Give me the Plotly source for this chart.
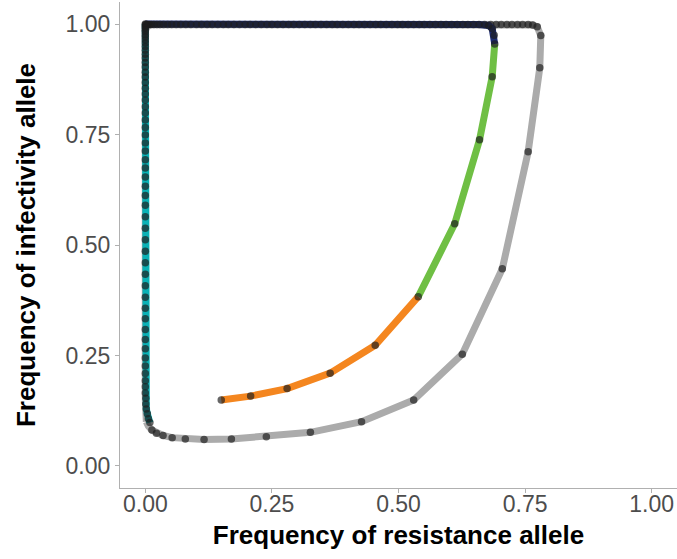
import plotly.graph_objects as go

# ---- data ----
# grey trajectory (path)
grey_x = [0.002, 0.000, 0.000, 0.000, 0.010, 0.682, 0.693, 0.703, 0.714, 0.724, 0.735, 0.745,
          0.756, 0.765, 0.774, 0.781, 0.779, 0.756, 0.705, 0.626, 0.530, 0.427, 0.326, 0.239,
          0.170, 0.116, 0.079, 0.053, 0.035, 0.022, 0.013, 0.006, 0.002]
grey_y = [0.100, 0.150, 0.500, 0.990, 0.999, 0.999, 0.999, 0.999, 0.999, 0.999, 0.999, 0.999,
          0.999, 0.998, 0.994, 0.974, 0.901, 0.711, 0.446, 0.253, 0.149, 0.100, 0.076, 0.066,
          0.061, 0.060, 0.061, 0.064, 0.069, 0.074, 0.081, 0.090, 0.100]
# grey trajectory (visible points)
grey_pt_x = [0.682, 0.693, 0.703, 0.714, 0.724, 0.735, 0.745, 0.756, 0.765, 0.774, 0.781, 0.779,
             0.756, 0.705, 0.626, 0.530, 0.427, 0.326, 0.239, 0.170, 0.116, 0.079, 0.053, 0.035,
             0.022, 0.013]
grey_pt_y = [0.999, 0.999, 0.999, 0.999, 0.999, 0.999, 0.999, 0.999, 0.998, 0.994, 0.974, 0.901,
             0.711, 0.446, 0.253, 0.149, 0.100, 0.076, 0.066, 0.061, 0.060, 0.061, 0.064, 0.069,
             0.074, 0.081]

# coloured trajectory, phase 1 (orange)
orange_x = [0.150, 0.208, 0.280, 0.365, 0.454, 0.539]
orange_y = [0.149, 0.158, 0.175, 0.210, 0.273, 0.383]
# phase 2 (green)
green_x = [0.539, 0.611, 0.660, 0.685, 0.690]
green_y = [0.383, 0.548, 0.738, 0.881, 0.955]
# phase 3 (navy, along the top)
navy_x = [0.690, 0.689, 0.685, 0.678, 0.670, 0.659, 0.648, 0.637, 0.627, 0.616, 0.605, 0.594,
          0.584, 0.573, 0.562, 0.551, 0.541, 0.530, 0.519, 0.508, 0.498, 0.487, 0.476, 0.465,
          0.455, 0.444, 0.433, 0.422, 0.412, 0.401, 0.390, 0.379, 0.369, 0.358, 0.347, 0.336,
          0.326, 0.315, 0.304, 0.293, 0.283, 0.272, 0.261, 0.250, 0.240, 0.229, 0.218, 0.207,
          0.197, 0.186, 0.175, 0.164, 0.154, 0.143, 0.132, 0.122, 0.111, 0.101, 0.090, 0.080,
          0.070, 0.061, 0.052, 0.044, 0.036, 0.029, 0.023, 0.017, 0.012, 0.008, 0.005, 0.003,
          0.001, 0.000]
navy_y = [0.955, 0.975, 0.990, 0.997, 0.999, 0.999, 0.999, 0.999, 0.999, 0.999, 0.999, 0.999,
          0.999, 0.999, 0.999, 0.999, 0.999, 0.999, 0.999, 0.999, 0.999, 0.999, 0.999, 0.999,
          0.999, 0.999, 0.999, 0.999, 0.999, 0.999, 0.999, 0.999, 0.999, 0.999, 0.999, 0.999,
          0.999, 0.999, 0.999, 0.999, 0.999, 0.999, 0.999, 0.999, 0.999, 0.999, 0.999, 0.999,
          0.999, 0.999, 0.999, 0.999, 0.999, 0.999, 0.999, 0.999, 0.999, 0.999, 0.999, 0.999,
          0.999, 0.999, 0.999, 0.999, 0.999, 0.999, 0.999, 0.999, 0.999, 0.999, 0.999, 0.999,
          0.999, 1.000]
# phase 4 (teal, down the left side)
teal_x = [0.000, 0.000, 0.000, 0.000, 0.000, 0.000, 0.000, 0.000, 0.000, 0.000,
          0.000, 0.000, 0.000, 0.000, 0.000, 0.000, 0.000, 0.000, 0.000, 0.000,
          0.000, 0.000, 0.000, 0.000, 0.000, 0.000, 0.000, 0.000, 0.000, 0.000,
          0.000, 0.000, 0.000, 0.000, 0.000, 0.000, 0.000, 0.000, 0.000, 0.000,
          0.000, 0.000, 0.000, 0.000, 0.000, 0.000, 0.000, 0.000, 0.000, 0.000,
          0.000, 0.000, 0.000, 0.000, 0.001, 0.001, 0.002, 0.004, 0.006, 0.009]
teal_y = [1.000, 0.998, 0.994, 0.991, 0.986, 0.982, 0.976, 0.971, 0.964, 0.957,
          0.949, 0.941, 0.932, 0.923, 0.913, 0.903, 0.891, 0.880, 0.868, 0.855,
          0.842, 0.828, 0.813, 0.799, 0.783, 0.766, 0.749, 0.731, 0.713, 0.693,
          0.674, 0.654, 0.633, 0.612, 0.590, 0.564, 0.538, 0.512, 0.486, 0.460,
          0.434, 0.408, 0.382, 0.357, 0.333, 0.309, 0.286, 0.265, 0.244, 0.226,
          0.209, 0.193, 0.179, 0.165, 0.153, 0.140, 0.129, 0.118, 0.107, 0.098]

tick_vals = [0.0, 0.25, 0.5, 0.75, 1.0]
tick_text = ["0.00", "0.25", "0.50", "0.75", "1.00"]

# ---- styles ----
LW = 7
DOT = dict(size=7.5, color="rgba(30,30,30,0.68)", line=dict(width=0))
FONT = "Liberation Sans, Arial, sans-serif"

fig = go.Figure()
fig.add_trace(go.Scatter(x=grey_x, y=grey_y, mode="lines",
                         line=dict(color="#ababab", width=LW), hoverinfo="skip"))
fig.add_trace(go.Scatter(x=grey_pt_x, y=grey_pt_y, mode="markers", marker=DOT))

for xs, ys, col in [(orange_x, orange_y, "#f4861f"),
                    (green_x, green_y, "#6fbf44"),
                    (navy_x, navy_y, "#1d2c72"),
                    (teal_x, teal_y, "#0ab2b6")]:
    fig.add_trace(go.Scatter(x=xs, y=ys, mode="lines",
                             line=dict(color=col, width=LW), hoverinfo="skip"))

for xs, ys in [(orange_x, orange_y), (green_x[1:], green_y[1:]),
               (navy_x[1:], navy_y[1:]), (teal_x[1:], teal_y[1:])]:
    fig.add_trace(go.Scatter(x=xs, y=ys, mode="markers", marker=DOT))

axis_common = dict(
    showgrid=False, zeroline=False, showline=True, linecolor="#b0b0b0", linewidth=1.3,
    ticks="outside", ticklen=4, tickwidth=1.3, tickcolor="#b0b0b0",
    tickvals=tick_vals, ticktext=tick_text,
    tickfont=dict(family=FONT, size=23, color="#4d4d4d"),
    range=[-0.05, 1.05], fixedrange=True,
)
fig.update_xaxes(**axis_common, ticklabelstandoff=-9,
                 title=dict(text="<b>Frequency of resistance allele</b>", standoff=10,
                            font=dict(family=FONT, size=26, color="black")))
fig.update_yaxes(**axis_common,
                 title=dict(text="<b>Frequency of infectivity allele</b>", standoff=22,
                            font=dict(family=FONT, size=26, color="black")))

fig.update_layout(
    width=677, height=559,
    margin=dict(l=120, r=0, t=2, b=71),
    plot_bgcolor="white", paper_bgcolor="white",
    showlegend=False,
)

fig.write_html("out.html")
